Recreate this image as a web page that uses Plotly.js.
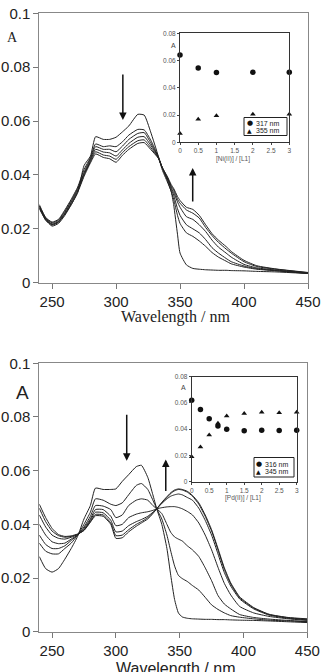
<!DOCTYPE html>
<html><head><meta charset="utf-8">
<script src="https://cdn.plot.ly/plotly-3.0.1.min.js"></script>
<style>html,body{margin:0;padding:0;background:#fff}#g{width:322px;height:672px}</style>
</head><body><div id="g"></div>
<script>
// ---------- Top panel (Ni) spectra ----------
const topWl = [240,245,250,255,260,265,270,275,280,284,290,295,300,305,310,317,322,327,333,336,340,343,345,348,350,355,360,365,370,375,380,386,390,400,410,425,450];
const topA0 = [0.0285,0.0232,0.0216,0.0226,0.0255,0.029,0.0335,0.0435,0.047,0.0542,0.0532,0.0532,0.054,0.056,0.0582,0.0625,0.0622,0.056,0.047,0.042,0.0375,0.034,0.029,0.018,0.011,0.0066,0.0053,0.005,0.0048,0.0047,0.0046,0.0046,0.0045,0.0044,0.0042,0.004,0.0034];
const topA1 = [0.029,0.0242,0.0225,0.0235,0.027,0.031,0.0355,0.042,0.0465,0.0515,0.0505,0.0508,0.0505,0.0523,0.0548,0.0569,0.0567,0.053,0.0468,0.0428,0.038,0.034,0.031,0.025,0.022,0.0185,0.0172,0.0155,0.0135,0.0112,0.0095,0.008,0.007,0.0058,0.005,0.0044,0.0034];
const topA2 = [0.0285,0.024,0.0222,0.0232,0.0265,0.0305,0.035,0.041,0.046,0.0505,0.0495,0.0495,0.0486,0.0507,0.0532,0.0554,0.0557,0.052,0.0466,0.0428,0.0385,0.035,0.0325,0.0275,0.025,0.0215,0.02,0.0185,0.016,0.013,0.011,0.009,0.0078,0.0062,0.0052,0.0045,0.0035];
const topA3 = [0.028,0.0237,0.0218,0.0228,0.026,0.03,0.0345,0.0405,0.0455,0.0495,0.0485,0.0482,0.047,0.0493,0.0517,0.054,0.0542,0.0511,0.0465,0.0428,0.039,0.0355,0.0335,0.03,0.028,0.0245,0.0235,0.0215,0.019,0.0158,0.0132,0.011,0.0095,0.0068,0.0055,0.0047,0.0036];
const topA4 = [0.0278,0.0235,0.0214,0.0224,0.0255,0.0295,0.034,0.04,0.045,0.0486,0.0474,0.047,0.0458,0.0483,0.0505,0.0527,0.053,0.0502,0.0463,0.0428,0.0392,0.036,0.0345,0.031,0.0295,0.027,0.0258,0.024,0.0205,0.0175,0.015,0.0125,0.011,0.0078,0.006,0.005,0.0037];
const topA5 = [0.0275,0.0232,0.021,0.022,0.025,0.029,0.0335,0.0395,0.0445,0.0478,0.0465,0.046,0.0447,0.0473,0.0495,0.0517,0.052,0.0495,0.0462,0.0428,0.0395,0.0365,0.035,0.032,0.0305,0.028,0.0272,0.025,0.0215,0.0182,0.0158,0.0134,0.0116,0.0083,0.0063,0.0051,0.0038];
// ---------- Top inset (Ni titration) ----------
const niRatio = [0,0.5,1,2,3];
const ni317 = [0.064,0.0545,0.0512,0.0515,0.0515];
const ni355 = [0.0065,0.017,0.0195,0.0205,0.0205];
const niLegend = ['317 nm','355 nm'];
// ---------- Bottom panel (Pd) spectra ----------
const botWl = [240,245,250,255,260,265,270,275,280,284,290,296,300,305,310,316,320,325,329,332,336,340,343,346,349,352,356,360,365,370,375,380,385,390,397,408,420,435,450];
const botA0 = [0.028,0.0235,0.0222,0.0235,0.027,0.031,0.0355,0.042,0.047,0.0535,0.053,0.053,0.0532,0.056,0.0585,0.0615,0.062,0.0575,0.051,0.0458,0.04,0.031,0.021,0.012,0.007,0.0055,0.005,0.0048,0.0047,0.0046,0.0046,0.0045,0.0045,0.0044,0.0043,0.0042,0.004,0.0037,0.0034];
const botA1 = [0.033,0.03,0.029,0.029,0.031,0.033,0.036,0.04,0.0445,0.0495,0.049,0.0475,0.047,0.048,0.051,0.0545,0.0552,0.053,0.049,0.0458,0.042,0.036,0.03,0.0245,0.021,0.0198,0.0187,0.0172,0.0155,0.0128,0.01,0.0083,0.007,0.006,0.0054,0.0048,0.0043,0.004,0.0037];
const botA2 = [0.036,0.0325,0.031,0.031,0.032,0.034,0.036,0.039,0.043,0.047,0.0468,0.0455,0.0425,0.0435,0.047,0.049,0.0495,0.049,0.047,0.0458,0.044,0.04,0.037,0.0353,0.0345,0.0338,0.032,0.0305,0.028,0.0238,0.019,0.0135,0.0103,0.0085,0.0064,0.0053,0.0047,0.0042,0.0038];
const botA3 = [0.04,0.036,0.0335,0.0328,0.033,0.0345,0.036,0.0385,0.042,0.0455,0.0455,0.043,0.0395,0.04,0.0425,0.0438,0.0443,0.0447,0.0452,0.0458,0.0462,0.0465,0.0466,0.0466,0.0463,0.0458,0.0448,0.0435,0.0405,0.036,0.0305,0.024,0.018,0.0137,0.0094,0.007,0.0057,0.0048,0.0042];
const botA4 = [0.0435,0.039,0.036,0.0348,0.0345,0.0352,0.0362,0.038,0.0415,0.0445,0.0443,0.0415,0.0372,0.0375,0.0395,0.041,0.0418,0.043,0.0445,0.0458,0.0478,0.0495,0.0505,0.051,0.0513,0.051,0.05,0.049,0.046,0.0415,0.036,0.029,0.022,0.017,0.0122,0.0085,0.0062,0.005,0.0044];
const botA5 = [0.046,0.041,0.0375,0.0358,0.0352,0.0355,0.0363,0.0378,0.041,0.0437,0.0435,0.0405,0.0358,0.036,0.038,0.04,0.041,0.0425,0.0443,0.0458,0.048,0.05,0.0515,0.0525,0.053,0.0528,0.052,0.0505,0.0475,0.043,0.0375,0.0305,0.0232,0.0178,0.0126,0.0088,0.0064,0.0052,0.0046];
const botA6 = [0.0475,0.0425,0.0385,0.0362,0.0355,0.0357,0.0364,0.0377,0.0408,0.0432,0.043,0.04,0.0348,0.035,0.0372,0.0393,0.0405,0.042,0.044,0.0458,0.0482,0.0503,0.0518,0.0528,0.0532,0.053,0.0523,0.0508,0.048,0.0435,0.038,0.031,0.0238,0.0182,0.013,0.009,0.0065,0.0053,0.0048];
// ---------- Bottom inset (Pd titration) ----------
const pdRatio = [0,0.25,0.5,0.75,1,1.5,2,2.5,3];
const pd316 = [0.062,0.055,0.048,0.0425,0.04,0.0388,0.0392,0.039,0.0392];
const pd345 = [0.019,0.0265,0.0355,0.0445,0.05,0.052,0.053,0.0525,0.053];
const pdLegend = ['316 nm','345 nm'];

const mainTicksY = [0,0.02,0.04,0.06,0.08,0.1];
const mainTickTextY = ['0','0.02','0.04','0.06','0.08','0.1'];
const mainTicksX = [250,300,350,400,450];
const insetTicksY = [0,0.02,0.04,0.06,0.08];
const insetTickTextY = ['0','0.02','0.04','0.06','0.08'];
const insetTicksX = [0,0.5,1,1.5,2,2.5,3];
const insetTickTextX = ['0','0.5','1','1.5','2','2.5','3'];

const lineStyle = {color:'#222', width:1, shape:'spline', smoothing:0.5};
const traces = [];
[topA0,topA1,topA2,topA3,topA4,topA5].forEach(a=>traces.push({x:topWl,y:a,xaxis:'x',yaxis:'y',mode:'lines',line:lineStyle,hoverinfo:'skip'}));
[botA0,botA1,botA2,botA3,botA4,botA5,botA6].forEach(a=>traces.push({x:botWl,y:a,xaxis:'x3',yaxis:'y3',mode:'lines',line:lineStyle,hoverinfo:'skip'}));
traces.push({x:niRatio,y:ni317,xaxis:'x2',yaxis:'y2',mode:'markers',name:niLegend[0],marker:{symbol:'circle',size:5.5,color:'#111'},cliponaxis:false});
traces.push({x:niRatio,y:ni355,xaxis:'x2',yaxis:'y2',mode:'markers',name:niLegend[1],marker:{symbol:'triangle-up',size:5,color:'#111'},cliponaxis:false});
traces.push({x:pdRatio,y:pd316,xaxis:'x4',yaxis:'y4',mode:'markers',name:pdLegend[0],marker:{symbol:'circle',size:5.5,color:'#111'},cliponaxis:false});
traces.push({x:pdRatio,y:pd345,xaxis:'x4',yaxis:'y4',mode:'markers',name:pdLegend[1],marker:{symbol:'triangle-up',size:5,color:'#111'},cliponaxis:false});

const W=322,H=672;
const px=v=>v/W, py=v=>1-v/H;
const sans='Liberation Sans, Arial, sans-serif', serif='Liberation Serif, Times New Roman, serif';
function mainX(dom, anchor){return {domain:dom,anchor:anchor,range:[240,450],tickvals:mainTicksX,ticks:'outside',ticklen:5,tickcolor:'#777',showline:true,mirror:true,linecolor:'#888',linewidth:1,showgrid:false,zeroline:false,tickfont:{family:sans,size:15,color:'#222'}};}
function mainY(dom, anchor){return {domain:dom,anchor:anchor,range:[0,0.1],tickvals:mainTicksY,ticktext:mainTickTextY,ticks:'outside',ticklen:5,tickcolor:'#777',showline:true,mirror:true,linecolor:'#888',linewidth:1,showgrid:false,zeroline:false,tickfont:{family:sans,size:15,color:'#222'}};}
function insX(dom, anchor){return {domain:dom,anchor:anchor,range:[0,3],tickvals:insetTicksX,ticktext:insetTickTextX,ticks:'outside',ticklen:2,tickcolor:'#444',showline:true,mirror:true,linecolor:'#333',linewidth:1,showgrid:false,zeroline:false,tickfont:{family:sans,size:6.5,color:'#555'}};}
function insY(dom, anchor){return {domain:dom,anchor:anchor,range:[0,0.08],tickvals:insetTicksY,ticktext:insetTickTextY,ticks:'outside',ticklen:2,tickcolor:'#444',showline:true,mirror:true,linecolor:'#333',linewidth:1,showgrid:false,zeroline:false,tickfont:{family:sans,size:6.5,color:'#555'}};}

const arrow = {showarrow:true,arrowhead:2,arrowsize:1,arrowwidth:1.5,arrowcolor:'#111',text:''};
function legBox(x0,x1,y0,y1){return {type:'rect',xref:'paper',yref:'paper',x0:px(x0),x1:px(x1),y0:py(y1),y1:py(y0),line:{color:'#222',width:1},fillcolor:'#fff',layer:'above'};}
function legSym(x,y,s,sz){return {xref:'paper',yref:'paper',x:px(x),y:py(y),text:s,showarrow:false,font:{family:'DejaVu Sans',size:sz,color:'#111'},xanchor:'center',yanchor:'middle'};}
function legTxt(x,y,s){return {xref:'paper',yref:'paper',x:px(x),y:py(y),text:s,showarrow:false,font:{family:sans,size:7,color:'#222'},xanchor:'left',yanchor:'middle'};}
const layout = {
  width:W,height:H,margin:{l:0,r:0,t:0,b:0},paper_bgcolor:'#fff',plot_bgcolor:'rgba(0,0,0,0)',showlegend:false,
  xaxis:mainX([px(39.3),px(308)],'y'),
  yaxis:mainY([py(282.7),py(13.3)],'x'),
  xaxis2:insX([px(180),px(289.3)],'y2'),
  yaxis2:insY([py(142.3),py(33.3)],'x2'),
  xaxis3:mainX([px(39.3),px(307.3)],'y3'),
  yaxis3:mainY([py(631.7),py(363.3)],'x3'),
  xaxis4:insX([px(191.7),px(296.7)],'y4'),
  yaxis4:insY([py(481.7),py(376.7)],'x4'),
  shapes:[legBox(244,287,117.5,135.5),legBox(254,294,457.5,477)],
  annotations:[
    {xref:'paper',yref:'paper',x:px(175),y:py(317),text:'Wavelength / nm',showarrow:false,font:{family:serif,size:16,color:'#222'},xanchor:'center',yanchor:'middle'},
    {xref:'paper',yref:'paper',x:px(12),y:py(37),text:'A',showarrow:false,font:{family:serif,size:14,color:'#222'},xanchor:'center',yanchor:'middle'},
    {xref:'paper',yref:'paper',x:px(175),y:py(658),text:'Wavelength / nm',showarrow:false,font:{family:sans,size:16,color:'#222'},xanchor:'center',yanchor:'top'},
    {xref:'paper',yref:'paper',x:px(22.7),y:py(392),text:'A',showarrow:false,font:{family:sans,size:19,color:'#222'},xanchor:'center',yanchor:'middle'},
    {xref:'paper',yref:'paper',x:px(173),y:py(46),text:'A',showarrow:false,font:{family:sans,size:7,color:'#444'},xanchor:'center',yanchor:'middle'},
    {xref:'paper',yref:'paper',x:px(233),y:py(158.5),text:'[Ni(II)] / [L1]',showarrow:false,font:{family:sans,size:6.5,color:'#555'},xanchor:'center',yanchor:'middle'},
    {xref:'paper',yref:'paper',x:px(183),y:py(388),text:'A',showarrow:false,font:{family:sans,size:7,color:'#444'},xanchor:'center',yanchor:'middle'},
    {xref:'paper',yref:'paper',x:px(243),y:py(497.5),text:'[Pd(II)] / [L1]',showarrow:false,font:{family:sans,size:6.5,color:'#555'},xanchor:'center',yanchor:'middle'},
    legSym(249.5,123.3,'●',7), legTxt(254,123.3,niLegend[0]),
    legSym(249.5,131,'▲',6), legTxt(254,131,niLegend[1]),
    legSym(258.5,464,'●',7), legTxt(263,464,pdLegend[0]),
    legSym(258.5,471.5,'▲',6), legTxt(263,471.5,pdLegend[1]),
    Object.assign({xref:'x',yref:'y',axref:'x',ayref:'y',x:305.3,y:0.0604,ax:305.3,ay:0.0778},arrow),
    Object.assign({xref:'x',yref:'y',axref:'x',ayref:'y',x:359.9,y:0.0426,ax:359.9,ay:0.0296},arrow),
    Object.assign({xref:'x3',yref:'y3',axref:'x3',ayref:'y3',x:308.5,y:0.0637,ax:308.5,ay:0.0814},arrow),
    Object.assign({xref:'x3',yref:'y3',axref:'x3',ayref:'y3',x:339.1,y:0.0642,ax:339.1,ay:0.0519},arrow)
  ]
};
Plotly.newPlot('g',traces,layout,{displayModeBar:false,staticPlot:true});
</script></body></html>
